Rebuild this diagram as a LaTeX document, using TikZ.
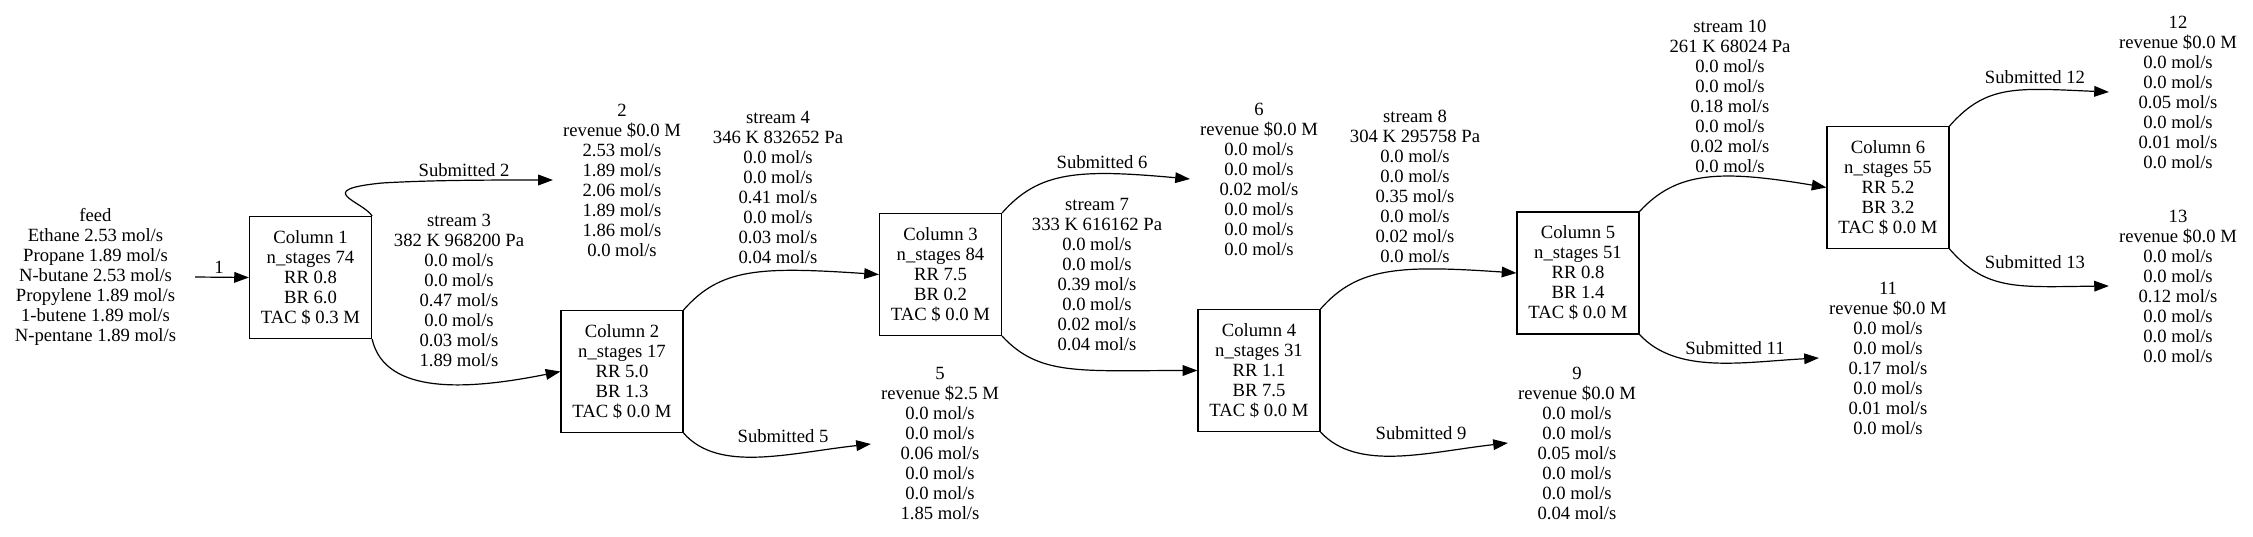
\documentclass[tikz,border=0pt]{standalone}
\usepackage{fontspec}
\setmainfont{Liberation Serif}
\newfontfamily\gvfont{Liberation Serif}
\usetikzlibrary{arrows.meta}
\begin{document}
\begin{tikzpicture}[x=0.75pt,y=-0.75pt,
  every node/.style={font=\gvfont\fontsize{14}{15}\selectfont},
  txt/.style={align=center, inner xsep=7.5pt, inner ysep=0pt},
  feedbox/.style={align=center, inner xsep=14pt, inner ysep=0pt},
  col/.style={draw, line width=0.9pt, minimum width=91.5pt, minimum height=91.5pt, align=center, inner sep=0pt},
  flow/.style={line width=0.9pt, -{Triangle[length=11pt,width=8pt]}},
  lab/.style={align=center, inner sep=0pt}]
\useasboundingbox (0,0) rectangle (2253,536);

% feed
\node[feedbox] (feed) at (95.5,277) {feed\\Ethane 2.53 mol/s\\Propane 1.89 mol/s\\N-butane 2.53 mol/s\\Propylene 1.89 mol/s\\1-butene 1.89 mol/s\\N-pentane 1.89 mol/s};

% columns
\node[col] (c1) at (310.5,277.5) {Column 1\\n\_stages 74\\RR 0.8\\BR 6.0\\TAC \$ 0.3 M};
\node[col] (c2) at (622,371.5) {Column 2\\n\_stages 17\\RR 5.0\\BR 1.3\\TAC \$ 0.0 M};
\node[col] (c3) at (940.5,274.5) {Column 3\\n\_stages 84\\RR 7.5\\BR 0.2\\TAC \$ 0.0 M};
\node[col] (c4) at (1259,370.5) {Column 4\\n\_stages 31\\RR 1.1\\BR 7.5\\TAC \$ 0.0 M};
\node[col] (c5) at (1578,273) {Column 5\\n\_stages 51\\RR 0.8\\BR 1.4\\TAC \$ 0.0 M};
\node[col] (c6) at (1888,187.5) {Column 6\\n\_stages 55\\RR 5.2\\BR 3.2\\TAC \$ 0.0 M};

% products
\node[txt] (p2) at (622,180) {2\\revenue \$0.0 M\\2.53 mol/s\\1.89 mol/s\\2.06 mol/s\\1.89 mol/s\\1.86 mol/s\\0.0 mol/s};
\node[txt] (p5) at (940,444) {5\\revenue \$2.5 M\\0.0 mol/s\\0.0 mol/s\\0.06 mol/s\\0.0 mol/s\\0.0 mol/s\\1.85 mol/s};
\node[txt] (p6) at (1259,179) {6\\revenue \$0.0 M\\0.0 mol/s\\0.0 mol/s\\0.02 mol/s\\0.0 mol/s\\0.0 mol/s\\0.0 mol/s};
\node[txt] (p9) at (1577,443) {9\\revenue \$0.0 M\\0.0 mol/s\\0.0 mol/s\\0.05 mol/s\\0.0 mol/s\\0.0 mol/s\\0.04 mol/s};
\node[txt] (p11) at (1888,358) {11\\revenue \$0.0 M\\0.0 mol/s\\0.0 mol/s\\0.17 mol/s\\0.0 mol/s\\0.01 mol/s\\0.0 mol/s};
\node[txt] (p12) at (2178,92) {12\\revenue \$0.0 M\\0.0 mol/s\\0.0 mol/s\\0.05 mol/s\\0.0 mol/s\\0.01 mol/s\\0.0 mol/s};
\node[txt] (p13) at (2178,286) {13\\revenue \$0.0 M\\0.0 mol/s\\0.0 mol/s\\0.12 mol/s\\0.0 mol/s\\0.0 mol/s\\0.0 mol/s};

% edges
\coordinate (s2m) at (382,183);
\draw[flow] (feed.east) -- (c1.west);
\draw[line width=0.9pt] (c1.north east) .. controls +(-10,-15) and +(-70,7) .. (s2m);
\draw[flow] (s2m) .. controls +(50,-3) and +(-60,0) .. (p2.west);
\draw[flow] (c1.south east) .. controls +(13,57) and +(-90,18) .. (c2.west);
\draw[flow] (c2.north east) .. controls +(37,-42) and +(-119,-8) .. (c3.west);
\draw[flow] (c2.south east) .. controls +(35,40) and +(-82,9) .. (p5.west);
\draw[flow] (c3.north east) .. controls +(37,-42) and +(-111,-10) .. (p6.west);
\draw[flow] (c3.south east) .. controls +(37,40) and +(-118,0) .. (c4.west);
\draw[flow] (c4.north east) .. controls +(37,-42) and +(-117,-8) .. (c5.west);
\draw[flow] (c4.south east) .. controls +(37,40) and +(-80,9) .. (p9.west);
\draw[flow] (c5.north east) .. controls +(37,-40) and +(-107,-18) .. (c6.west);
\draw[flow] (c5.south east) .. controls +(37,40) and +(-76,4) .. (p11.west);
\draw[flow] (c6.north east) .. controls +(37,-42) and +(-92,-4) .. (p12.west);
\draw[flow] (c6.south east) .. controls +(37,42) and +(-92,1) .. (p13.west);

% edge labels
\node[lab] (l1) at (219,267) {1};
\node[lab] (lsub2) at (464,170) {Submitted 2};
\node[lab] (ls3) at (459,290) {stream 3\\382 K 968200 Pa\\0.0 mol/s\\0.0 mol/s\\0.47 mol/s\\0.0 mol/s\\0.03 mol/s\\1.89 mol/s};
\node[lab] (ls4) at (778,187) {stream 4\\346 K 832652 Pa\\0.0 mol/s\\0.0 mol/s\\0.41 mol/s\\0.0 mol/s\\0.03 mol/s\\0.04 mol/s};
\node[lab] (lsub5) at (783,436) {Submitted 5};
\node[lab] (lsub6) at (1102,162) {Submitted 6};
\node[lab] (ls7) at (1097,275) {stream 7\\333 K 616162 Pa\\0.0 mol/s\\0.0 mol/s\\0.39 mol/s\\0.0 mol/s\\0.02 mol/s\\0.04 mol/s};
\node[lab] (ls8) at (1415,186) {stream 8\\304 K 295758 Pa\\0.0 mol/s\\0.0 mol/s\\0.35 mol/s\\0.0 mol/s\\0.02 mol/s\\0.0 mol/s};
\node[lab] (lsub9) at (1421,433) {Submitted 9};
\node[lab] (ls10) at (1730,96) {stream 10\\261 K 68024 Pa\\0.0 mol/s\\0.0 mol/s\\0.18 mol/s\\0.0 mol/s\\0.02 mol/s\\0.0 mol/s};
\node[lab] (lsub11) at (1735,348) {Submitted 11};
\node[lab] (lsub12) at (2035,77) {Submitted 12};
\node[lab] (lsub13) at (2035,262) {Submitted 13};
\end{tikzpicture}
\end{document}
